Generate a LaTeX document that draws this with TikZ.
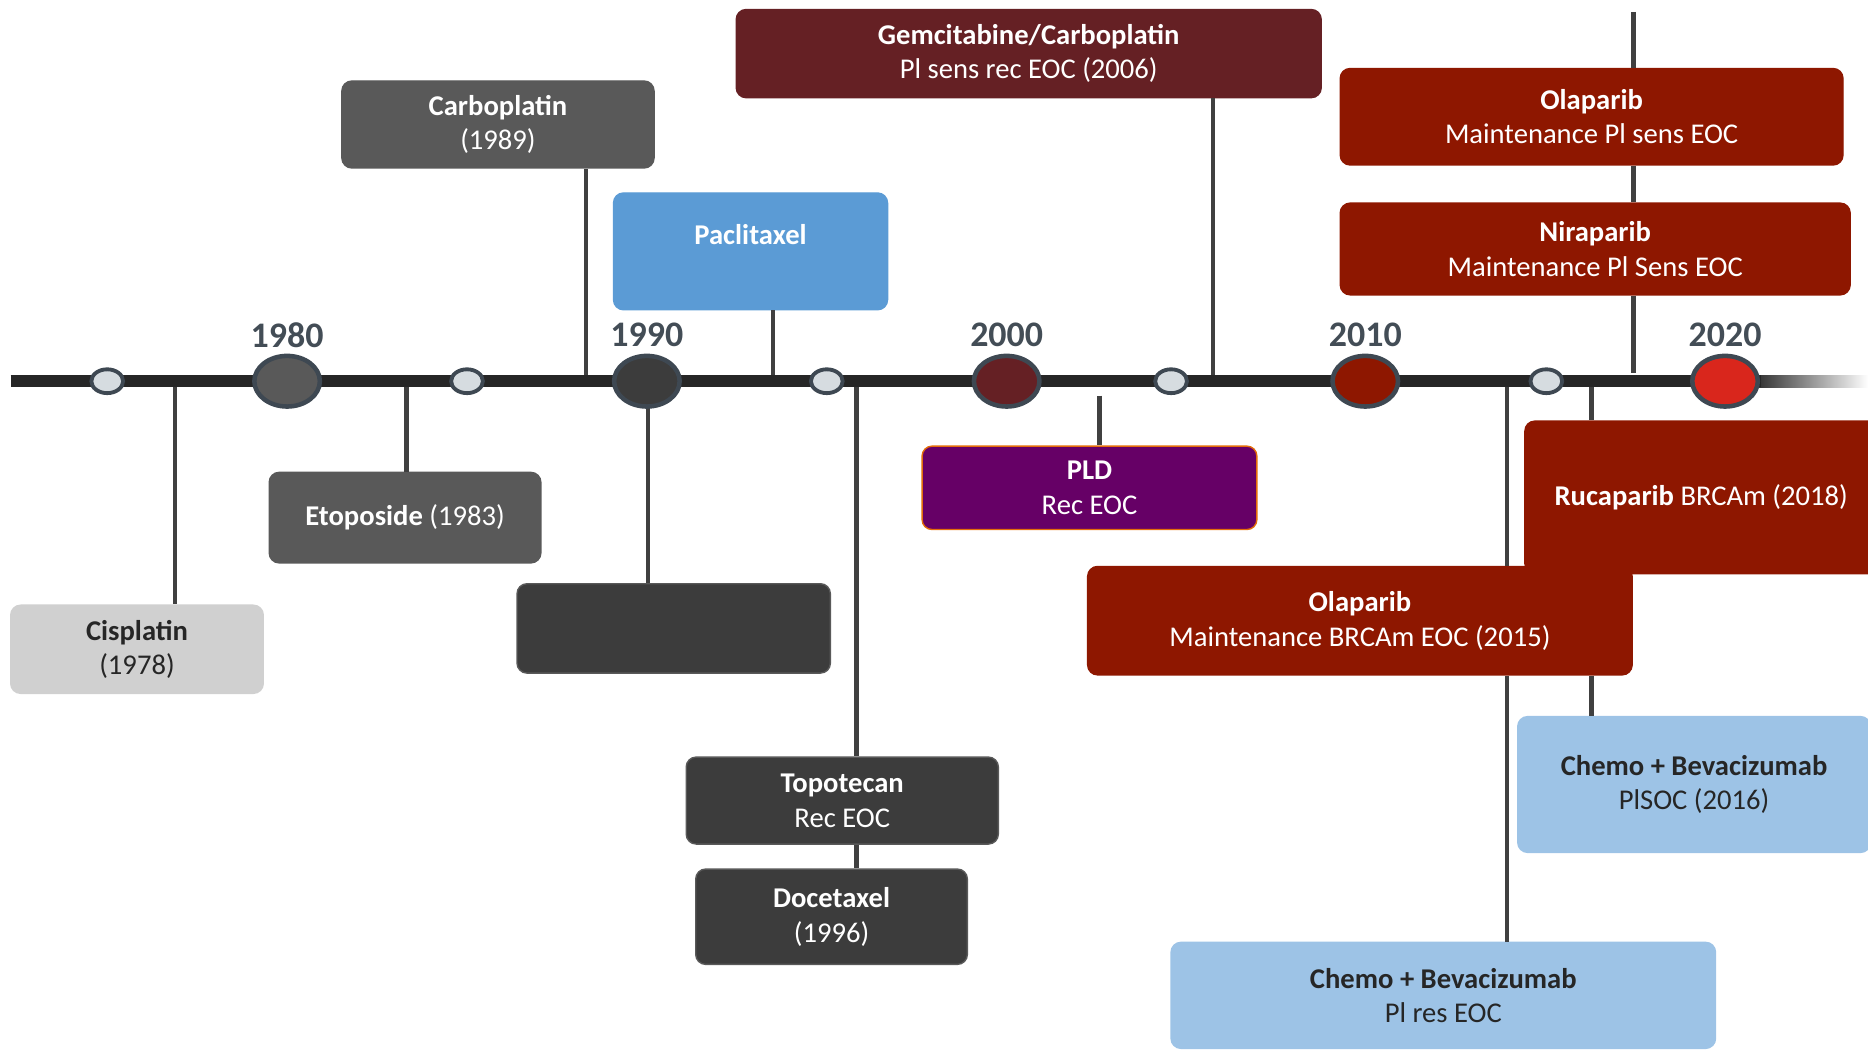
\documentclass[tikz,border=0pt]{standalone}
\usepackage{fontspec}
\setmainfont{Carlito}
\usepackage{tikz}
\usetikzlibrary{positioning,calc,shapes.geometric}
\definecolor{ink}{HTML}{262626}
\definecolor{stemgrey}{HTML}{404040}
\definecolor{rim}{HTML}{3E4852}
\definecolor{yearink}{HTML}{434D56}
\definecolor{pale}{HTML}{D6DCE0}
\definecolor{lightgrey}{HTML}{D0D0D0}
\definecolor{midgrey}{HTML}{595959}
\definecolor{darkgrey}{HTML}{3C3C3C}
\definecolor{sky}{HTML}{5B9BD5}
\definecolor{lightsky}{HTML}{9DC3E6}
\definecolor{maroon}{HTML}{652024}
\definecolor{brick}{HTML}{8E1700}
\definecolor{scarlet}{HTML}{D9261C}
\definecolor{plum}{HTML}{660066}
\definecolor{ember}{HTML}{E46C0A}
\tikzset{
  txt/.style={align=center,font=\fontsize{8.2}{9.9}\selectfont,text=white},
  box/.style={txt,rounded corners=1mm,inner sep=0pt,line width=0.4pt},
  lightbox/.style={box,draw=lightgrey,fill=lightgrey,text=ink},
  greybox/.style={box,draw=midgrey,fill=midgrey},
  darkbox/.style={box,draw=darkgrey!85!white,fill=darkgrey},
  skybox/.style={box,draw=sky,fill=sky},
  lightskybox/.style={box,draw=lightsky,fill=lightsky,text=ink},
  maroonbox/.style={box,draw=maroon,fill=maroon},
  brickbox/.style={box,draw=brick,fill=brick},
  plumbox/.style={box,draw=ember,fill=plum},
  stem/.style={draw=stemgrey,line width=1.3pt},
  axis/.style={draw=ink,line width=1.2mm},
  bigdot/.style={ellipse,draw=rim,line width=1.3pt,minimum width=6.6mm,minimum height=5.1mm,inner sep=0},
  smalldot/.style={ellipse,draw=rim,fill=pale,line width=1.1pt,minimum width=3.2mm,minimum height=2.4mm,inner sep=0},
  yr/.style={font=\fontsize{10.3}{12}\selectfont\bfseries,text=yearink}}

\begin{document}
\begin{tikzpicture}[x=0.12mm,y=-0.12mm]
  \useasboundingbox (0,0) rectangle (1568,881);
  % boxes above the line
  \node[greybox,minimum width=31.44mm,minimum height=8.76mm] (carbo) at (418,104.5) {\textbf{Carboplatin}\\(1989)};
  \node[skybox,minimum width=27.6mm,minimum height=11.76mm] (pac) at (630,211) {};
  \node[txt,font=\fontsize{8.2}{9.9}\selectfont\bfseries] (pactxt) at (630,197) {Paclitaxel};
  \node[maroonbox,minimum width=58.92mm,minimum height=8.88mm] (gem) at (863.5,45) {\textbf{Gemcitabine/Carboplatin}\\Pl sens rec EOC (2006)};
  \node[brickbox,minimum width=50.64mm,minimum height=9.72mm] (olapi) at (1336,98) {\textbf{Olaparib}\\Maintenance Pl sens EOC};
  \node[brickbox,minimum width=51.36mm,minimum height=9.24mm] (nira) at (1339,209) {\textbf{Niraparib}\\Maintenance Pl Sens EOC};
  % boxes below the line
  \node[lightbox,minimum width=25.44mm,minimum height=8.88mm] (cis) at (115,545) {\textbf{Cisplatin}\\(1978)};
  \node[greybox,minimum width=27.36mm,minimum height=9.12mm] (eto) at (340,434.5) {\textbf{Etoposide} (1983)};
  \node[darkbox,minimum width=31.56mm,minimum height=9mm] (blank) at (565.5,527.5) {};
  \node[darkbox,minimum width=31.44mm,minimum height=8.76mm] (topo) at (707,672) {\textbf{Topotecan}\\Rec EOC};
  \node[darkbox,minimum width=27.36mm,minimum height=9.6mm] (doce) at (698,769.5) {\textbf{Docetaxel}\\(1996)};
  \node[plumbox,minimum width=33.72mm,minimum height=8.4mm] (pld) at (914.5,409.5) {\textbf{PLD}\\Rec EOC};
  \node[brickbox,minimum width=35.52mm,minimum height=15.36mm] (ruca) at (1428,417.5) {\textbf{Rucaparib} BRCAm (2018)};
  \node[brickbox,minimum width=54.84mm,minimum height=10.92mm] (ola15) at (1141.5,521) {\textbf{Olaparib}\\Maintenance BRCAm EOC (2015)};
  \node[lightskybox,minimum width=35.52mm,minimum height=13.68mm] (bev16) at (1422,658.5) {\textbf{Chemo + Bevacizumab}\\PlSOC (2016)};
  \node[lightskybox,minimum width=54.84mm,minimum height=10.68mm] (bevres) at (1211.5,835.5) {\textbf{Chemo + Bevacizumab}\\Pl res EOC};
  % stems, then the line over them
  \foreach \n/\x in {cis/147,eto/341,carbo/492,pac/649,blank/544,topo/719,gem/1018,bevres/1265,ruca/1336}
    \coordinate (t\n) at (\x,320);
  \coordinate (tpld) at (923,332);
  \coordinate (ptop) at (1371,10);
  \coordinate (pbot) at (1371,313);
  \draw[stem] (tcis) -- (tcis |- cis.north);
  \draw[stem] (teto) -- (teto |- eto.north);
  \draw[stem] (tcarbo) -- (tcarbo |- carbo.south);
  \draw[stem] (tpac) -- (tpac |- pac.south);
  \draw[stem] (tblank) -- (tblank |- blank.north);
  \draw[stem] (ttopo) -- (ttopo |- topo.north);
  \draw[stem] (ttopo |- topo.south) -- (ttopo |- doce.north);
  \draw[stem] (tgem) -- (tgem |- gem.south);
  \draw[stem] (tpld) -- (tpld |- pld.north);
  \draw[stem] (tbevres) -- (tbevres |- ola15.north);
  \draw[stem] (tbevres |- ola15.south) -- (tbevres |- bevres.north);
  \draw[stem] (truca) -- (truca |- ruca.north);
  \draw[stem] (truca |- ola15.south) -- (truca |- bev16.north);
  \draw[stem] (ptop) -- (ptop |- olapi.north);
  \draw[stem] (ptop |- olapi.south) -- (ptop |- nira.north);
  \draw[stem] (ptop |- nira.south) -- (pbot);
  \coordinate (tl0) at (9,320);
  \coordinate (tl1) at (1478,320);
  \shade[left color=ink,right color=white] (1470,315) rectangle (1568,325);
  \draw[axis] (tl0) -- (tl1);
  % dots and years
  \foreach \x/\n in {90/a,392/b,694/c,983/d,1298/e}
    \node[smalldot] (s\n) at (\x,320) {};
  \foreach \x/\yr/\c in {241/1980/midgrey,543/1990/darkgrey,845/2000/maroon,1146/2010/brick,1448/2020/scarlet}{
    \node[bigdot,fill=\c] (y\yr) at (\x,320) {};
    \node[yr] (l\yr) at (\x,281) {\yr};}
\end{tikzpicture}
\end{document}
